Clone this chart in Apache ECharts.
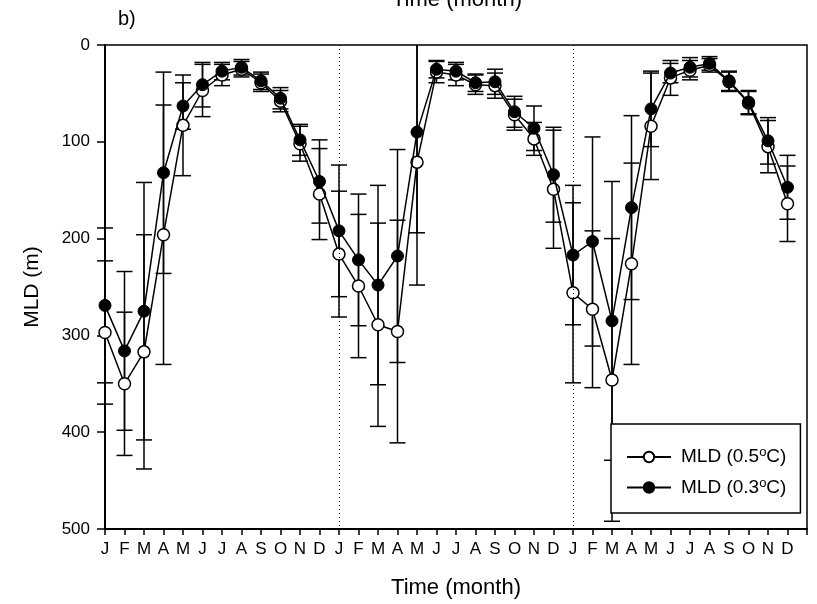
<!DOCTYPE html>
<html>
<head>
<meta charset="utf-8">
<script src="https://cdn.jsdelivr.net/npm/echarts@6/dist/echarts.min.js"></script>
<style>
html,body{margin:0;padding:0;background:#fff;}
#chart{width:817px;height:604px;}
</style>
</head>
<body>
<div id="chart"></div>
<script>
var monthLabels = ['J','F','M','A','M','J','J','A','S','O','N','D'];
var yTicks = [0, 100, 200, 300, 400, 500];
// MLD (0.5 oC) - open circles, 36 months
var mld05 = [297,350,317,196,83,47,31,25,39,58,102,154,
             216,249,289,296,121,28,31,41,42,72,97,149,
             256,273,346,226,84,34,26,21,38,60,105,164];
var err05 = [74,74,121,134,52,27,11,8,9,11,18,47,
             65,74,105,115,127,11,11,10,13,16,17,61,
             93,81,146,104,55,18,10,7,10,12,27,39];
// MLD (0.3 oC) - filled circles
var mld03 = [269,316,275,132,63,41,27,23,37,55,98,141,
             192,222,248,218,90,25,27,39,38,69,86,134,
             217,203,285,168,66,29,23,19,37,59,99,147];
var err03 = [80,82,133,104,24,23,9,8,9,11,16,43,
             68,68,103,110,104,9,9,9,13,16,23,49,
             72,108,144,95,39,10,10,7,10,12,24,33];
var yearStarts = [12, 24];

var chart = echarts.init(document.getElementById('chart'), null, {renderer:'canvas'});

function toPairs(arr){
	var out = [];
	for(var i = 0; i < arr.length; i++){ out.push([i, arr[i]]); }
	return out;
}
function toErr(vals, errs){
	var out = [];
	for(var i = 0; i < vals.length; i++){ out.push([i, vals[i], errs[i]]); }
	return out;
}

function renderErr(params, api){
	var x = api.value(0), m = api.value(1), e = api.value(2);
	var lo = m - e, hi = m + e;
	var top = api.coord([x, Math.max(lo, 0)]);
	var bot = api.coord([x, Math.min(hi, 500)]);
	var cap = 8;
	var st = {stroke:'#000', lineWidth:1.5};
	var kids = [{type:'line', shape:{x1:top[0], y1:top[1], x2:bot[0], y2:bot[1]}, style:st}];
	if(lo >= 0){
		kids.push({type:'line', shape:{x1:top[0]-cap, y1:top[1], x2:top[0]+cap, y2:top[1]}, style:st});
	}
	if(hi <= 500){
		kids.push({type:'line', shape:{x1:bot[0]-cap, y1:bot[1], x2:bot[0]+cap, y2:bot[1]}, style:st});
	}
	return {type:'group', children:kids};
}

var name05 = 'MLD (0.5°C)', name03 = 'MLD (0.3°C)';
var font = 'Liberation Sans, Arial, sans-serif';

var option = {
	animation: false,
	backgroundColor: '#fff',
	textStyle: {fontFamily: font, color:'#000'},
	grid: {left:105, right:10, top:45, bottom:67, show:true, borderColor:'#000', borderWidth:1.5, backgroundColor:'transparent'},
	graphic: [
		{type:'text', left:392, top:-11, style:{text:'Time (month)', font:'22px ' + font, fill:'#000'}},
		{type:'text', left:118, top:9, style:{text:'b)', font:'20px ' + font, fill:'#000'}}
	],
	legend: {
		orient:'vertical', left:611, top:424,
		data:[name05, name03],
		backgroundColor:'#fff', borderColor:'#000', borderWidth:1.5,
		padding:[22, 14, 16, 15],
		itemWidth:44, itemHeight:13, itemGap:10,
		textStyle:{fontSize:19, fontFamily:font, color:'#000', padding:[0,0,0,5],
			rich:{s:{fontSize:13, verticalAlign:'top', padding:[0,0,9,0], fontFamily:font, color:'#000'}}},
		formatter:function(n){ return n === name05 ? 'MLD (0.5{s|o}C)' : 'MLD (0.3{s|o}C)'; }
	},
	xAxis: {
		type:'value', min:0, max:36, interval:1,
		name:'Time (month)', nameLocation:'middle', nameGap:48,
		nameTextStyle:{fontSize:22, fontFamily:font, color:'#000'},
		axisLine:{onZero:false, lineStyle:{color:'#000', width:2}},
		axisTick:{length:6, lineStyle:{color:'#000', width:1.5}},
		axisLabel:{fontSize:17, color:'#000', margin:12, fontFamily:font,
			formatter:function(v){ return v < 36 ? monthLabels[v % 12] : ''; }},
		splitLine:{show:false}
	},
	yAxis: {
		type:'value', inverse:true, min:yTicks[0], max:yTicks[yTicks.length-1], interval:100,
		name:'MLD (m)', nameLocation:'middle', nameGap:62,
		nameTextStyle:{fontSize:21, fontFamily:font, color:'#000'},
		axisLine:{onZero:false, lineStyle:{color:'#000', width:2}},
		axisTick:{length:8, lineStyle:{color:'#000', width:1.5}},
		axisLabel:{fontSize:17, color:'#000', margin:15, fontFamily:font},
		splitLine:{show:false}
	},
	series: [
		{type:'custom', name:'err05', renderItem:renderErr, data:toErr(mld05, err05), z:2, silent:true,
			encode:{x:0, y:1}},
		{type:'custom', name:'err03', renderItem:renderErr, data:toErr(mld03, err03), z:2, silent:true,
			encode:{x:0, y:1}},
		{type:'line', name:name05, data:toPairs(mld05), z:3,
			symbol:'circle', symbolSize:12, showAllSymbol:true,
			itemStyle:{color:'#fff', borderColor:'#000', borderWidth:1.5},
			lineStyle:{color:'#000', width:1.5},
			markLine:{silent:true, symbol:'none', label:{show:false},
				lineStyle:{type:[1,3], color:'#000', width:1},
				data:yearStarts.map(function(v){ return {xAxis:v}; })}},
		{type:'line', name:name03, data:toPairs(mld03), z:4,
			symbol:'circle', symbolSize:12, showAllSymbol:true,
			itemStyle:{color:'#000', borderColor:'#000', borderWidth:1},
			lineStyle:{color:'#000', width:1.5}}
	]
};
chart.setOption(option);
</script>
</body>
</html>
